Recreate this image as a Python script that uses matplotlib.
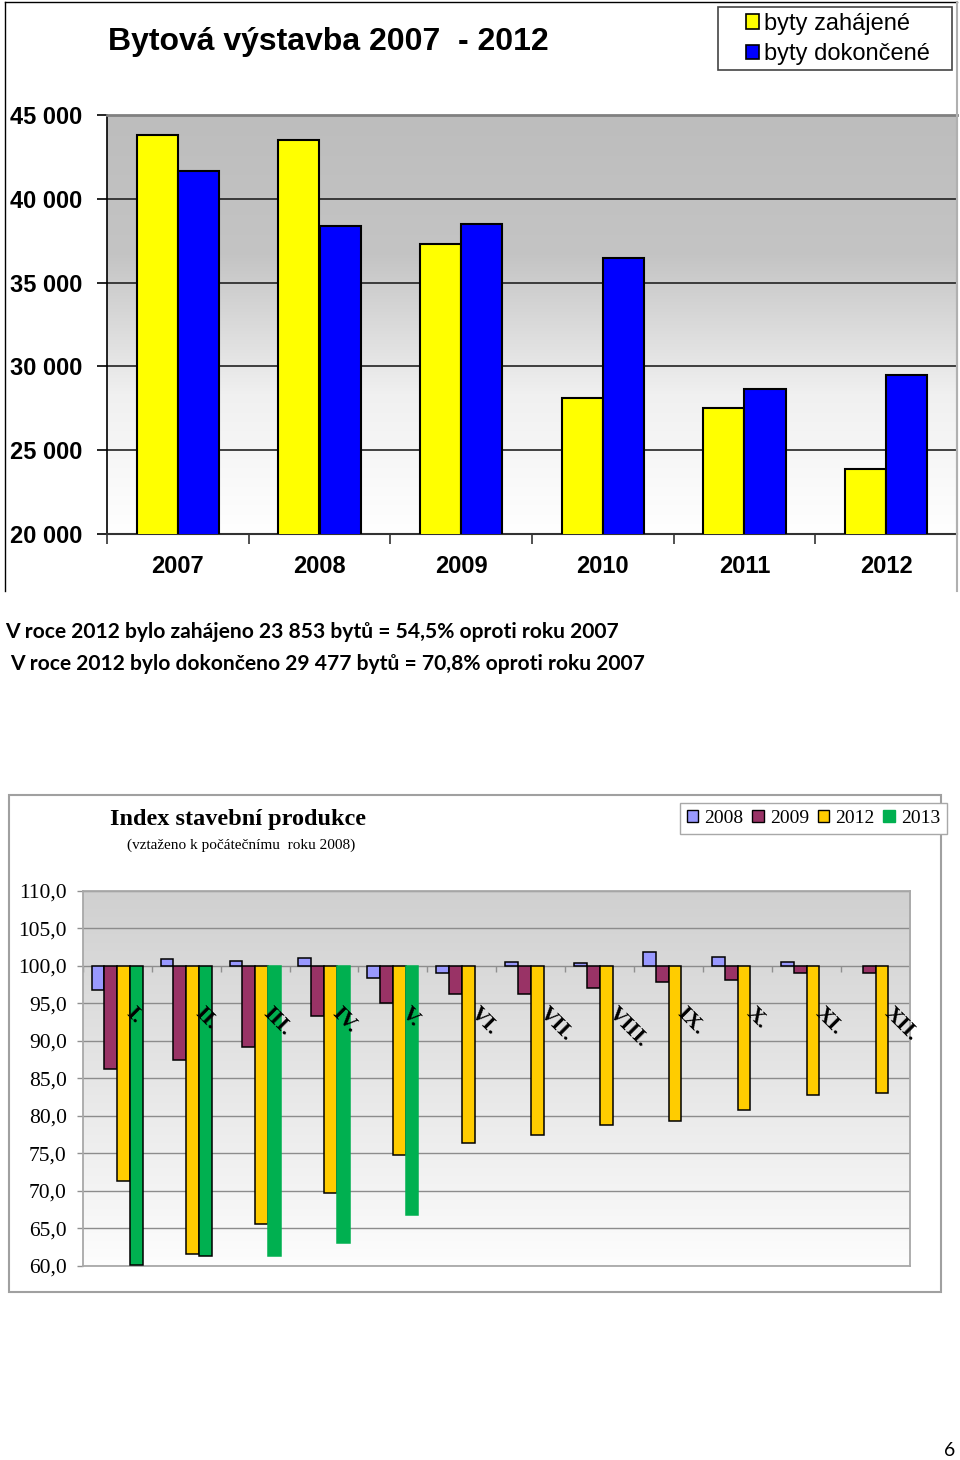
import numpy as np
import matplotlib
matplotlib.use('Agg')
import matplotlib.pyplot as plt
from matplotlib.patches import Patch, Rectangle
from matplotlib.lines import Line2D
from matplotlib.colors import LinearSegmentedColormap
from matplotlib.ticker import FuncFormatter

# ---------------- data: top chart ----------------
years = ['2007', '2008', '2009', '2010', '2011', '2012']
started = [43796, 43531, 37319, 28135, 27535, 23853]
completed = [41649, 38380, 38473, 36442, 28630, 29477]
top_title = 'Bytová výstavba 2007  - 2012'
top_legend = ['byty zahájené', 'byty dokončené']
top_yticks = [20000, 25000, 30000, 35000, 40000, 45000]

note_lines = ['V roce 2012 bylo zahájeno 23 853 bytů = 54,5% oproti roku 2007',
              'V roce 2012 bylo dokončeno 29 477 bytů = 70,8% oproti roku 2007']

# ---------------- data: bottom chart ----------------
months = ['I.', 'II.', 'III.', 'IV.', 'V.', 'VI.', 'VII.', 'VIII.', 'IX.', 'X.', 'XI.', 'XII.']
series_names = ['2008', '2009', '2012', '2013']
nan = np.nan
idx_2008 = [96.8, 100.9, 100.7, 101.1, 98.4, 99.0, 100.5, 100.4, 101.8, 101.2, 100.5, nan]
idx_2009 = [86.2, 87.5, 89.2, 93.3, 95.0, 96.2, 96.2, 97.0, 97.8, 98.1, 99.0, 99.1]
idx_2012 = [71.3, 61.6, 65.6, 69.7, 74.8, 76.4, 77.4, 78.7, 79.3, 80.7, 82.7, 83.0]
idx_2013 = [60.1, 61.3, 61.3, 63.0, 66.7, nan, nan, nan, nan, nan, nan, nan]
bottom_yticks = [60, 65, 70, 75, 80, 85, 90, 95, 100, 105, 110]
bottom_title = 'Index stavební produkce'
bottom_subtitle = '(vztaženo k počátečnímu  roku 2008)'
page_number = '6'

W, H = 960, 1460
def fx(px):
    return px / W
def fy(py):
    return 1 - py / H

fig = plt.figure(figsize=(W / 100, H / 100), dpi=100)
fig.patch.set_facecolor('white')

SANS = ['Liberation Sans', 'DejaVu Sans']
SERIF = ['Liberation Serif', 'DejaVu Serif']

# ================= top chart =================
ax1 = fig.add_axes([fx(107), fy(534), (957 - 107) / W, (534 - 115) / H])
cmap_top = LinearSegmentedColormap.from_list('g1', ['#ffffff', '#f0f0f0', '#c4c4c4', '#bdbdbd'])
ax1.imshow(np.linspace(0, 1, 256).reshape(-1, 1), cmap=cmap_top, origin='lower',
           extent=[-0.5, len(years) - 0.5, 20000, 45000], aspect='auto', zorder=0)
x1 = np.arange(len(years))
bw = 0.29
ax1.bar(x1 - bw / 2, started, bw, bottom=0, color='#FFFF00', edgecolor='black', lw=1.5, zorder=3)
ax1.bar(x1 + bw / 2, completed, bw, bottom=0, color='#0000FF', edgecolor='black', lw=1.5, zorder=3)
ax1.set_xlim(-0.5, len(years) - 0.5)
ax1.set_ylim(20000, 45000)
ax1.set_yticks(top_yticks)
ax1.yaxis.set_major_formatter(FuncFormatter(lambda v, p: f'{int(v):,}'.replace(',', ' ')))
ax1.set_xticks(x1)
ax1.set_xticklabels(years)
ax1.set_xticks(np.arange(-0.5, len(years), 1), minor=True)
ax1.tick_params(axis='x', which='major', length=0, pad=15)
ax1.tick_params(axis='x', which='minor', length=7, width=1.2, direction='out', color='#333333')
ax1.tick_params(axis='y', length=7, width=1.2, direction='out', pad=11)
for lab in ax1.get_xticklabels() + ax1.get_yticklabels():
    lab.set_fontfamily(SANS)
    lab.set_fontweight('bold')
    lab.set_fontsize(17)
ax1.yaxis.grid(True, color='#222222', lw=1.2)
ax1.set_axisbelow(True)
ax1.spines['left'].set_color('black')
ax1.spines['left'].set_linewidth(1.2)
ax1.spines['bottom'].set_color('#333333')
ax1.spines['bottom'].set_linewidth(1.5)
ax1.spines['top'].set_color('#808080')
ax1.spines['top'].set_linewidth(2)
ax1.spines['right'].set_color('#b0b0b0')
ax1.spines['right'].set_linewidth(1.5)

fig.text(fx(108), fy(42), top_title, fontsize=23, fontweight='bold', family=SANS,
         ha='left', va='center')
h_top = [Patch(facecolor='#FFFF00', edgecolor='black', lw=1.2),
         Patch(facecolor='#0000FF', edgecolor='black', lw=1.2)]
fig.add_artist(Rectangle((fx(718), fy(70)), (952 - 718) / W, (70 - 7) / H, transform=fig.transFigure,
                         facecolor='white', edgecolor='#444444', lw=1.2))
leg1 = fig.legend(h_top, top_legend, loc='center left', bbox_to_anchor=(fx(746), fy(39)),
                  frameon=False, prop={'family': SANS, 'size': 17}, handlelength=0.55,
                  handleheight=0.55, handletextpad=0.2, borderpad=0.0, labelspacing=0.35,
                  borderaxespad=0)

# frame around top chart
fig.add_artist(Line2D([fx(5), fx(5)], [fy(2), fy(591)], transform=fig.transFigure, color='black', lw=1))
fig.add_artist(Line2D([fx(5), fx(957)], [fy(2), fy(2)], transform=fig.transFigure, color='black', lw=1))
fig.add_artist(Line2D([fx(957), fx(957)], [fy(2), fy(591)], transform=fig.transFigure, color='#b0b0b0', lw=1.5))

# notes
fig.text(fx(5), fy(632), note_lines[0], fontsize=15.1, fontweight='bold', family=['Lato', 'DejaVu Sans'],
         ha='left', va='center')
fig.text(fx(10), fy(664), note_lines[1], fontsize=15.1, fontweight='bold', family=['Lato', 'DejaVu Sans'],
         ha='left', va='center')

# ================= bottom chart =================
fig.add_artist(Rectangle((fx(9), fy(1292)), (941 - 9) / W, (1292 - 795) / H, transform=fig.transFigure,
                         fill=False, edgecolor='#a0a0a0', lw=1.5))
ax2 = fig.add_axes([fx(82.7), fy(1265.7), (910 - 82.7) / W, (1265.7 - 890.8) / H])
cmap_bot = LinearSegmentedColormap.from_list('g2', ['#fdfdfd', '#e6e6e6', '#d0d0d0'])
ax2.imshow(np.linspace(0, 1, 256).reshape(-1, 1), cmap=cmap_bot, origin='lower',
           extent=[-0.5, len(months) - 0.5, 60, 110], aspect='auto', zorder=0)
x2 = np.arange(len(months))
w2 = 0.185
colors = ['#9999FF', '#993366', '#FFCC00', '#00B050']
all_series = [idx_2008, idx_2009, idx_2012, idx_2013]
for j, (vals, col) in enumerate(zip(all_series, colors)):
    vals = np.array(vals, dtype=float)
    if j == 3:
        ec = ['black' if k < 2 else col for k in range(len(months))]
    else:
        ec = 'black'
    ax2.bar(x2 + (j - 1.5) * w2, vals - 100, w2, bottom=100, color=col, edgecolor=ec, lw=1.1, zorder=3)
ax2.set_xlim(-0.5, len(months) - 0.5)
ax2.set_ylim(60, 110)
ax2.set_yticks(bottom_yticks)
ax2.yaxis.set_major_formatter(FuncFormatter(lambda v, p: f'{v:.1f}'.replace('.', ',')))
ax2.set_xticks([])
ax2.tick_params(axis='y', length=4.5, width=1, color='#909090', direction='out', pad=7)
for lab in ax2.get_yticklabels():
    lab.set_fontfamily(SERIF)
    lab.set_fontsize(15.5)
ax2.yaxis.grid(True, color='#8c8c8c', lw=1)
ax2.set_axisbelow(True)
for s in ax2.spines.values():
    s.set_color('#a8a8a8')
    s.set_linewidth(1.3)
ax2.vlines(np.arange(-0.5, len(months), 1), 99.2, 100, color='#909090', lw=1, zorder=2)
for i, m in enumerate(months):
    ax2.text(i + 0.06, 95.0, m, rotation=-45, ha='left', va='top', fontsize=16,
             fontweight='bold', family=SERIF, zorder=5)

fig.text(fx(238), fy(820), bottom_title, ha='center', va='center', family=SERIF,
         fontweight='bold', fontsize=17.5)
fig.text(fx(241), fy(845), bottom_subtitle, ha='center', va='center', family=SERIF, fontsize=11)

h_bot = [Patch(facecolor=c, edgecolor='black' if k < 3 else c, lw=1) for k, c in enumerate(colors)]
leg2 = fig.legend(h_bot, series_names, loc='upper left', bbox_to_anchor=(fx(680), fy(803)), ncol=4,
                  frameon=True, fancybox=False, edgecolor='#a8a8a8', framealpha=1,
                  prop={'family': SERIF, 'size': 14}, handlelength=0.6, handleheight=0.6,
                  handletextpad=0.3, columnspacing=0.45, borderpad=0.35, borderaxespad=0)

fig.text(fx(950), fy(1450), page_number, fontsize=14, family=['Lato', 'DejaVu Sans'], ha='center', va='center')

fig.savefig('out.png', dpi=100, facecolor='white')
